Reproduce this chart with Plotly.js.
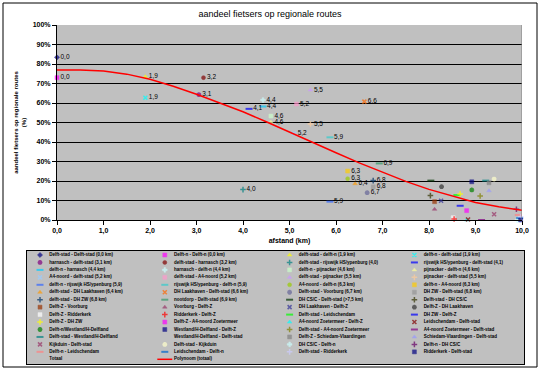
<!DOCTYPE html>
<html><head><meta charset="utf-8">
<script src="https://cdn.plot.ly/plotly-3.0.1.min.js"></script>
<style>html,body{margin:0;padding:0;background:#fff}#chart{width:540px;height:370px}</style>
</head><body><div id="chart"></div>
<script>
// ---- data ----
const routeNames = [
 "Delft-stad - Delft-stad (0,0 km)","Delft-n - Delft-n (0,0 km)","delft-stad - delft-n (1,9 km)","delft-n - delft-stad (1,9 km)",
 "harnasch - delft-stad (3,1 km)","delft-stad - harnasch (3,2 km)","delft-stad - rijswijk HS/ypenburg (4,0)","rijswijk HS/ypenburg - delft-stad (4,1)",
 "delft-n - harnasch (4,4 km)","harnasch - delft-n (4,4 km)","delft-n - pijnacker (4,6 km)","pijnacker - delft-n (4,6 km)",
 "A4-noord - delft-stad (5,2 km)","delft-stad - A4-noord (5,2 km)","delft-stad - pijnacker (5,5 km)","pijnacker - delft-stad (5,5 km)",
 "delft-n - rijswijk HS/ypenburg (5,9)","rijswijk HS/ypenburg - delft-n (5,9)","A4-noord - delft-n (6,3 km)","delft-n - A4-noord (6,3 km)",
 "delft-stad - DH Laakhaven (6,4 km)","DH Laakhaven - Delft-stad (6,6 km)","Delft-stad - Voorburg (6,7 km)","DH ZW - Delft-stad (6,8 km)",
 "delft-stad - DH ZW (6,8 km)","nootdorp - Delft-stad (6,9 km)","DH CS/C - Delft-stad (>7,5 km)","Delft-stad - DH CS/C",
 "Delft-Z - Voorburg","Voorburg - Delft-Z","DH Laakhaven - Delft-Z","Delft-Z - DH Laakhaven",
 "Delft-Z - Ridderkerk","Ridderkerk - Delft-Z","Delft-stad - Leidschendam","DH ZW - Delft-Z",
 "Delft-Z - DH ZW","Delft-Z - A4-noord Zoetermeer","A4-noord Zoetermeer - Delft-Z","Leidschendam - Delft-stad",
 "Delft-n/Westland/H-Delfland","Westland/H-Delfland - Delft-Z","Delft-stad - A4-noord Zoetermeer","A4-noord Zoetermeer - Delft-stad",
 "Delft-stad - Westland/H-Delfland","Westland/H-Delfland - Delft-stad","Delft-Z - Schiedam-Vlaardingen","Schiedam-Vlaardingen - Delft-stad",
 "Kijkduin - Delft-stad","Delft-stad - Kijkduin","DH CS/C - Delft-n","Delft-n - DH CS/C",
 "Delft-n - Leidschendam","Leidschendam - Delft-n","Delft-stad - Ridderkerk","Ridderkerk - Delft-stad"
];
const distKm = [
 0.0,0.0,1.9,1.9, 3.05,3.15,4.0,4.13, 4.43,4.43,4.6,4.6, 5.1,5.15,5.45,5.45,
 5.87,5.87,6.25,6.25, 6.41,6.61,6.67,6.8, 6.8,6.93,8.04,8.03, 8.12,8.12,8.26,8.27,
 8.52,8.54,8.6,8.67, 8.67,8.81,8.81,8.84, 8.92,8.92,9.1,9.13, 9.22,null,9.29,9.29,
 9.4,9.4,9.9,9.88, 9.92,9.95,9.97,9.97
];
const sharePct = [
 83.4,73.0,73.5,62.7, 64.3,73.0,15.6,57.0, 58.2,61.5,53.3,50.2, 44.4,59.5,66.7,49.2,
 9.4,42.4,21.2,25.1, 18.6,60.7,14.0,17.0, 20.2,29.0,20.2,12.5, 9.4,5.5,9.9,17.1,
 1.2,0.5,12.8,7.3, 13.3,4.8,0.0,0.3, 15.4,19.6,12.3,0.0, 20.2,null,19.1,15.0,
 2.9,21.0,0.0,5.5, 2.6,1.0,1.7,0.0
];
const pointLabels = [
 "0,0","0,0","1,9","1,9","3,1","3,2","4,0","4,1","4,4","4,4","4,6","4,6","5,2","5,2","5,5","5,5",
 "5,9","5,9","6,3","6,3","6,4","6,6","6,7","6,8","6,8","6,9"
];
const extraLegendNames = ["Totaal","Polynoom (totaal)"];
const trendKm  = [0,0.5,1,1.5,2,2.5,3,3.5,4,4.5,5,5.5,6,6.5,7,7.5,8,8.5,9,9.5,10];
const trendPct = [76.9,76.9,76.4,74.8,72.2,68.6,64.5,60.2,55.5,50.4,45.0,39.8,34.5,29.3,24.5,19.8,15.7,12.2,9.0,6.8,5.0];

// ---- styles ----
const seriesColors = [
 "#000080","#FF00FF","#FFFF00","#00FFFF","#800080","#800000","#008080","#0000FF",
 "#00CCFF","#CCFFFF","#CCFFCC","#FFFF99","#99CCFF","#FF99CC","#CC99FF","#FFCC99",
 "#3366FF","#33CCCC","#99CC00","#FFCC00","#FF9900","#FF6600","#666699","#969696",
 "#003366","#339966","#003300","#333300","#993300","#993366","#333399","#333333",
 "#FFFFFF","#FF0000","#00FF00","#0000FF","#FFFF00","#FF00FF","#00FFFF","#800000",
 "#008000","#000080","#808000","#800080","#008080","rgba(0,0,0,0)","#808080","#9999FF",
 "#993366","#FFFFCC","#CCFFFF","#660066","#FF8080","#0066CC","#CCCCFF","#000080"
];
const seriesSymbols = [
 "diamond","square","triangle-up","x-thin-open","asterisk-open","circle","cross-thin-open","line-ew-open",
 "line-ew-open","cross","square","triangle-up","x-thin-open","square","triangle-up","cross-thin-open",
 "line-ew-open","line-ew-open","circle","square","triangle-up","x-thin-open","asterisk-open","square",
 "cross-thin-open","line-ew-open","line-ew-open","cross-thin-open","square","triangle-up","x-thin-open","asterisk-open",
 "square","cross-thin-open","line-ew-open","line-ew-open","cross-thin-open","square","triangle-up","x-thin-open",
 "asterisk-open","square","cross-thin-open","line-ew-open","line-ew-open","circle","square","triangle-up",
 "x-thin-open","asterisk-open","cross","cross-thin-open","line-ew-open","line-ew-open","cross-thin-open","square"
];
const FONT = 'Arial, "Liberation Sans", sans-serif';
const lineWidths = seriesSymbols.map(s => s.indexOf('line') === 0 ? 2 : (s.indexOf('open') > 0 ? 1.5 : 0.5));
const markerSizes = seriesSymbols.map(s => s.indexOf('line') === 0 ? 5 : 4);
const markerStyle = {size:markerSizes, symbol:seriesSymbols, color:seriesColors, line:{color:seriesColors, width:lineWidths}};

// legend grid (4 columns, row-major like the Excel legend)
const legendNames = routeNames.concat(extraLegendNames);
const NCOL = 4;
const colOf = i => i % NCOL;
const rowOf = i => Math.floor(i / NCOL);
const polyIdx = legendNames.length - 1;

const traces = [
 {type:'scatter', mode:'markers+text', x:distKm, y:sharePct, text:pointLabels,
  textposition:'middle right', textfont:{family:FONT, size:6.5, color:'#000'},
  marker:markerStyle, cliponaxis:false, hoverinfo:'skip'},
 {type:'scatter', mode:'lines', x:trendKm, y:trendPct, line:{color:'#FF0000', width:1.5}, hoverinfo:'skip'},
 {type:'scatter', mode:'markers', xaxis:'x2', yaxis:'y2',
  x:routeNames.map((_, i) => colOf(i)), y:routeNames.map((_, i) => rowOf(i)),
  marker:markerStyle, cliponaxis:false, hoverinfo:'skip'},
 {type:'scatter', mode:'text', xaxis:'x2', yaxis:'y2',
  x:legendNames.map((_, i) => colOf(i) + 0.074), y:legendNames.map((_, i) => rowOf(i)),
  text:legendNames, textposition:'middle right',
  textfont:{family:FONT, size:4.5, color:'#000', weight:'bold'}, cliponaxis:false, hoverinfo:'skip'},
 {type:'scatter', mode:'lines', xaxis:'x2', yaxis:'y2',
  x:[colOf(polyIdx) - 0.06, colOf(polyIdx) + 0.06], y:[rowOf(polyIdx), rowOf(polyIdx)],
  line:{color:'#FF0000', width:1.5}, hoverinfo:'skip'}
];

const W = 540, H = 370;
const layout = {
 width:W, height:H, margin:{l:0, r:0, t:0, b:0},
 paper_bgcolor:'#FFFFFF', plot_bgcolor:'#C0C0C0', showlegend:false, separators:',.',
 font:{family:FONT, color:'#000'},
 title:{text:'aandeel fietsers op regionale routes', font:{family:FONT, size:9, color:'#000'},
        x:0.5, xanchor:'center', xref:'paper', y:1 - 13.5 / H, yanchor:'middle', yref:'container'},
 xaxis:{domain:[57 / W, 522 / W], range:[0, 10], tick0:0, dtick:1, tickformat:'.1f', anchor:'y',
        showgrid:false, zeroline:false, showline:true, linecolor:'#000', linewidth:1,
        ticks:'outside', ticklen:4, tickcolor:'#000', tickwidth:1,
        tickfont:{family:FONT, size:7, color:'#000', weight:'bold'},
        title:{text:'afstand (km)', font:{family:FONT, size:7, color:'#000', weight:'bold'}, standoff:3}},
 yaxis:{domain:[150 / H, 345 / H], range:[0, 100], tick0:0, dtick:10, ticksuffix:'%', anchor:'x',
        showgrid:true, gridcolor:'#000', gridwidth:1, zeroline:false, showline:true, linecolor:'#000', linewidth:1,
        ticks:'outside', ticklen:4, tickcolor:'#000', tickwidth:1,
        tickfont:{family:FONT, size:7, color:'#000', weight:'bold'},
        title:{text:'aandeel fietsers op regionale routes<br>(%)', font:{family:FONT, size:6, color:'#000', weight:'bold'}, standoff:5}},
 xaxis2:{domain:[27 / W, 524 / W], range:[(27 - 40) / 124.8, (524 - 40) / 124.8], anchor:'y2',
         showgrid:false, zeroline:false, showticklabels:false, ticks:'', showline:true, mirror:true, linecolor:'#000', linewidth:1},
 yaxis2:{domain:[(H - 364) / H, (H - 251) / H], range:[(364 - 255) / 7.45, (251 - 255) / 7.45], anchor:'x2',
         showgrid:false, zeroline:false, showticklabels:false, ticks:'', showline:true, mirror:true, linecolor:'#000', linewidth:1},
 shapes:[
  {type:'rect', xref:'paper', yref:'paper', x0:3 / W, x1:537 / W, y0:3 / H, y1:367 / H, line:{color:'#000', width:1}, fillcolor:'rgba(0,0,0,0)'},
  {type:'line', xref:'x', yref:'y', x0:10, x1:10, y0:0, y1:100, line:{color:'#808080', width:1}}
 ]
};
Plotly.newPlot('chart', traces, layout, {staticPlot:true, displayModeBar:false});
</script></body></html>
